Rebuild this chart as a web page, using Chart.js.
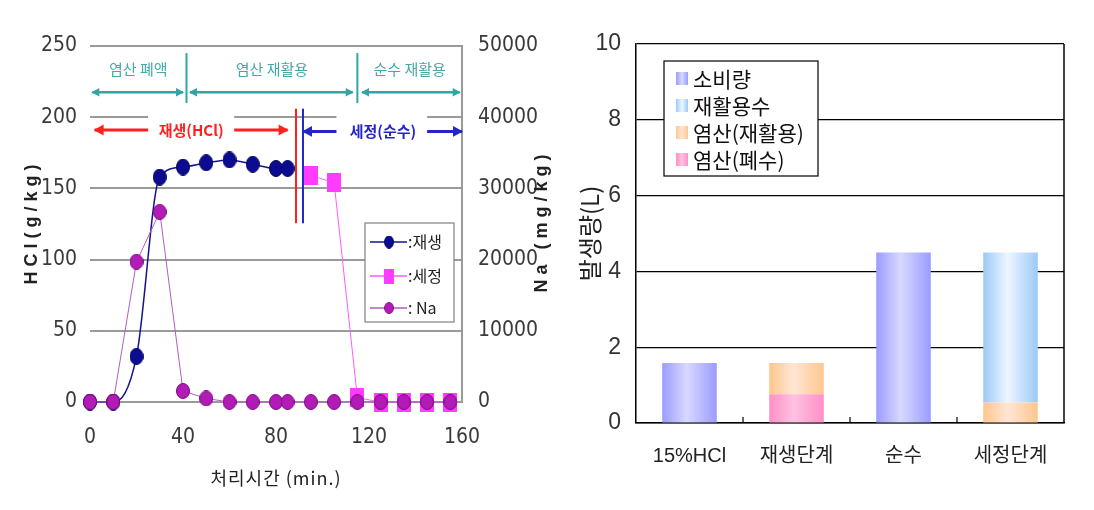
<!DOCTYPE html>
<html>
<head>
<meta charset="utf-8">
<script src="https://cdn.jsdelivr.net/npm/chart.js@4.4.1/dist/chart.umd.min.js"></script>
<style>
  body { margin: 0; background: #fff; width: 1094px; height: 510px; overflow: hidden; position: relative; }
  #left { position: absolute; left: 0; top: 0; }
  #right { position: absolute; left: 550px; top: 0; }
</style>
</head>
<body>
<canvas id="left" width="560" height="510"></canvas>
<canvas id="right" width="544" height="510"></canvas>
<script>
// ---- left chart data (처리시간 vs 농도) ----
const regenTime = [0, 10, 20, 30, 40, 50, 60, 70, 80, 85];
const regenHCl = [0, 0, 32, 158, 165, 168, 170, 167, 164, 164];
const washTime = [95, 105, 115, 125, 135, 145, 155];
const washHCl = [159, 154, 3, 0, 0, 0, 0];
const naTime = [0, 10, 20, 30, 40, 50, 60, 70, 80, 85, 95, 105, 115, 125, 135, 145, 155];
const naValue = [0, 0, 19700, 26700, 1550, 500, 0, 0, 0, 0, 0, 0, 0, 0, 0, 0, 0];

// 구간 표시 (x 는 min, y 는 HCl g/kg 축 기준)
const phaseNames = ['염산 폐액', '염산 재활용', '순수 재활용'];
const phaseBounds = [0, 41.5, 115, 160];
const phaseArrows = [[1, 40], [43, 113], [117, 159]];
const stepNames = ['재생(HCl)', '세정(순수)'];
const stepCenters = [43.5, 126];
const stepArrows = [[[2, 25], [62, 85]], [[91.6, 106], [145, 160]]];
const stepLines = [88.6, 91.6];

// ---- right chart data (발생량) ----
const stageLabels = ['15%HCl', '재생단계', '순수', '세정단계'];
const consumed = [1.58, null, 4.5, null];
const recycledWater = [null, null, null, 3.96];
const acidReuse = [null, 0.82, null, 0.54];
const acidWaste = [null, 0.76, null, null];

const narrow = "'Liberation Sans Narrow','DejaVu Sans Condensed','Liberation Sans',sans-serif";
const kr = "'Noto Sans CJK KR','Noto Sans',sans-serif";

function ellipseMarker(w, h, fill, edge) {
    const c = document.createElement('canvas');
    c.width = w; c.height = h;
    const g = c.getContext('2d');
    g.fillStyle = fill; g.strokeStyle = edge; g.lineWidth = 1;
    g.beginPath();
    g.ellipse(w / 2, h / 2, w / 2 - 0.5, h / 2 - 0.5, 0, 0, Math.PI * 2);
    g.fill(); g.stroke();
    return c;
}
function rectMarker(w, h, fill) {
    const c = document.createElement('canvas');
    c.width = w; c.height = h;
    const g = c.getContext('2d');
    g.fillStyle = fill;
    g.fillRect(0, 0, w, h);
    return c;
}
const regenMarker = ellipseMarker(14, 17, '#0c0c92', '#05055a');
const washMarker = rectMarker(14, 19, '#ff3cff');
const naMarker = ellipseMarker(14, 16, '#b21bb5', '#7a0a80');

function toXY(xs, ys) {
    return xs.map((x, i) => ({ x: x, y: ys[i] }));
}

function arrow(ctx, x1, x2, y, headLeft, headRight, size) {
    ctx.beginPath();
    ctx.moveTo(x1, y); ctx.lineTo(x2, y);
    ctx.stroke();
    if (headLeft) {
        ctx.beginPath();
        ctx.moveTo(x1 - 1, y); ctx.lineTo(x1 + size, y - size * 0.6); ctx.lineTo(x1 + size, y + size * 0.6);
        ctx.closePath(); ctx.fill();
    }
    if (headRight) {
        ctx.beginPath();
        ctx.moveTo(x2 + 1, y); ctx.lineTo(x2 - size, y - size * 0.6); ctx.lineTo(x2 - size, y + size * 0.6);
        ctx.closePath(); ctx.fill();
    }
}

const leftDecor = {
    id: 'leftDecor',
    beforeDatasetsDraw(chart) {
        const { ctx } = chart;
        const xs = chart.scales.x, ys = chart.scales.y;
        ctx.save();
        // white boxes behind the step texts
        ctx.fillStyle = '#fff';
        ctx.fillRect(xs.getPixelForValue(25), ys.getPixelForValue(205), xs.getPixelForValue(62) - xs.getPixelForValue(25), ys.getPixelForValue(180) - ys.getPixelForValue(205));
        ctx.fillRect(xs.getPixelForValue(106), ys.getPixelForValue(205), xs.getPixelForValue(145) - xs.getPixelForValue(106), ys.getPixelForValue(180) - ys.getPixelForValue(205));

        // phase rows (teal)
        ctx.strokeStyle = '#2fa6a6'; ctx.fillStyle = '#2fa6a6';
        ctx.lineWidth = 2;
        [phaseBounds[1], phaseBounds[2]].forEach(b => {
            ctx.beginPath();
            ctx.moveTo(xs.getPixelForValue(b), ys.getPixelForValue(245));
            ctx.lineTo(xs.getPixelForValue(b), ys.getPixelForValue(210));
            ctx.stroke();
        });
        ctx.lineWidth = 2.5;
        phaseArrows.forEach(a => {
            arrow(ctx, xs.getPixelForValue(a[0]), xs.getPixelForValue(a[1]), ys.getPixelForValue(217.5), true, true, 7);
        });
        ctx.font = '15px ' + kr;
        ctx.textAlign = 'center'; ctx.textBaseline = 'middle';
        ctx.fillStyle = '#45a8a8';
        phaseNames.forEach((n, i) => {
            const cx = i === 2 ? 137.5 : (phaseBounds[i] + phaseBounds[i + 1]) / 2;
            ctx.fillText(n, xs.getPixelForValue(cx), ys.getPixelForValue(233.5));
        });

        // step rows
        const stepColors = ['#ff2020', '#2424c8'];
        stepNames.forEach((n, i) => {
            ctx.strokeStyle = stepColors[i]; ctx.fillStyle = stepColors[i];
            ctx.lineWidth = 3;
            const yy = ys.getPixelForValue(i === 0 ? 191 : 190);
            const [a, b] = stepArrows[i];
            arrow(ctx, xs.getPixelForValue(a[0]), xs.getPixelForValue(a[1]), yy, true, false, 9);
            arrow(ctx, xs.getPixelForValue(b[0]), xs.getPixelForValue(b[1]), yy, false, true, 9);
            ctx.font = 'bold 15px ' + kr;
            ctx.fillText(n, xs.getPixelForValue(stepCenters[i]), yy);
            ctx.lineWidth = 2;
            ctx.beginPath();
            ctx.moveTo(xs.getPixelForValue(stepLines[i]), ys.getPixelForValue(206));
            ctx.lineTo(xs.getPixelForValue(stepLines[i]), ys.getPixelForValue(125.5));
            ctx.stroke();
        });
        ctx.restore();
    },
    afterDatasetsDraw(chart) {
        const { ctx } = chart;
        const ds = chart.data.datasets;
        const rows = [1, 2, 0];
        ctx.save();
        ctx.fillStyle = '#fff'; ctx.strokeStyle = '#808080'; ctx.lineWidth = 1.2;
        ctx.fillRect(365, 223, 89, 99);
        ctx.strokeRect(365, 223, 89, 99);
        const ys = [242, 276, 308];
        rows.forEach((d, i) => {
            const y = ys[i];
            ctx.strokeStyle = ds[d].borderColor; ctx.lineWidth = 1.5;
            ctx.beginPath(); ctx.moveTo(370, y); ctx.lineTo(407, y); ctx.stroke();
            const img = ds[d].pointStyle;
            ctx.drawImage(img, 389 - img.width / 2 + 2, y - img.height / 2 + 2, img.width - 4, img.height - 4);
            ctx.fillStyle = '#222';
            ctx.font = '16px ' + kr;
            ctx.textAlign = 'left'; ctx.textBaseline = 'middle';
            ctx.fillText(ds[d].label, 408, y);
        });
        ctx.restore();
    },
    afterDraw(chart) {
        const { ctx } = chart;
        ctx.save();
        ctx.fillStyle = '#222';
        ctx.textAlign = 'center'; ctx.textBaseline = 'middle';
        ctx.font = 'bold 18px ' + "'Liberation Sans',sans-serif";
        ctx.letterSpacing = '5px';
        ctx.translate(32, 222); ctx.rotate(-Math.PI / 2);
        ctx.fillText('HCl(g/kg)', 0, 0);
        ctx.setTransform(1, 0, 0, 1, 0, 0);
        ctx.translate(542, 221); ctx.rotate(-Math.PI / 2);
        ctx.fillText('Na (mg/kg)', 0, 0);
        ctx.setTransform(1, 0, 0, 1, 0, 0);
        ctx.letterSpacing = '1px';
        ctx.font = '18px ' + kr;
        ctx.fillText('처리시간 (min.)', 276, 478);
        ctx.restore();
    }
};

const tickFontL = { family: narrow, size: 21 };

new Chart(document.getElementById('left'), {
    type: 'line',
    data: {
        datasets: [
            {
                label: ': Na',
                data: toXY(naTime, naValue),
                yAxisID: 'y1',
                borderColor: '#b45ac4',
                borderWidth: 1,
                pointStyle: naMarker,
                clip: false,
                order: 0
            },
            {
                label: ':재생',
                data: toXY(regenTime, regenHCl),
                yAxisID: 'y',
                borderColor: '#14148c',
                borderWidth: 1.5,
                cubicInterpolationMode: 'monotone',
                pointStyle: regenMarker,
                clip: false,
                order: 1
            },
            {
                label: ':세정',
                data: toXY(washTime, washHCl),
                yAxisID: 'y',
                borderColor: '#ff5cff',
                borderWidth: 1,
                pointStyle: washMarker,
                clip: false,
                order: 2
            }
        ]
    },
    options: {
        responsive: false,
        animation: false,
        layout: { padding: { top: 46, left: 0, right: 0, bottom: 0 } },
        plugins: { legend: { display: false }, tooltip: { enabled: false } },
        scales: {
            x: {
                type: 'linear', min: 0, max: 160,
                ticks: { stepSize: 40, padding: 15, font: tickFontL, color: '#3a3a3a', maxRotation: 0 },
                grid: { display: false },
                border: { display: false },
                afterFit: s => { s.height = 108; }
            },
            y: {
                position: 'left', min: 0, max: 250,
                ticks: { stepSize: 50, padding: 13, font: tickFontL, color: '#3a3a3a' },
                grid: { color: '#9a9a9a', lineWidth: 2, drawTicks: false },
                border: { display: false },
                afterFit: s => { s.width = 90; }
            },
            y1: {
                position: 'right', min: 0, max: 50000,
                ticks: { stepSize: 10000, padding: 16, font: tickFontL, color: '#3a3a3a', callback: v => String(v) },
                grid: { drawOnChartArea: false, drawTicks: false },
                border: { display: true, color: '#9a9a9a', width: 2 },
                afterFit: s => { s.width = 98; }
            }
        }
    },
    plugins: [leftDecor]
});

// ---- right chart ----
const barColors = {
    consumed: ['#9a9cff', '#d8d8ff'],
    recycledWater: ['#9ccaf8', '#eef6ff'],
    acidReuse: ['#ffc68f', '#ffe6d4'],
    acidWaste: ['#ff8fc6', '#ffc2e2']
};
const barPct = 0.51;

function barGradient(chart, index, pair) {
    const xs = chart.scales.x;
    if (!xs || !chart.chartArea) return pair[0];
    const cx = xs.getPixelForValue(index);
    const half = chart.chartArea.width / stageLabels.length * barPct / 2;
    const g = chart.ctx.createLinearGradient(cx - half, 0, cx + half, 0);
    g.addColorStop(0, pair[0]);
    g.addColorStop(0.45, pair[1]);
    g.addColorStop(1, pair[0]);
    return g;
}

const rightDecor = {
    id: 'rightDecor',
    afterDatasetsDraw(chart) {
        const { ctx, chartArea } = chart;
        const xs = chart.scales.x;
        ctx.save();
        ctx.strokeStyle = '#000'; ctx.lineWidth = 1.5;
        // right frame
        ctx.beginPath();
        ctx.moveTo(chartArea.right, chartArea.top); ctx.lineTo(chartArea.right, chartArea.bottom);
        ctx.stroke();
        // inner ticks between categories
        ctx.lineWidth = 1.2;
        for (let i = 0; i < stageLabels.length - 1; i++) {
            const bx = (xs.getPixelForValue(i) + xs.getPixelForValue(i + 1)) / 2;
            ctx.beginPath(); ctx.moveTo(bx, chartArea.bottom); ctx.lineTo(bx, chartArea.bottom - 6); ctx.stroke();
        }
        // legend box
        const order = [3, 2, 1, 0];
        ctx.fillStyle = '#fff';
        ctx.fillRect(114, 61, 154, 115);
        ctx.strokeStyle = '#000'; ctx.lineWidth = 1.2;
        ctx.strokeRect(114, 61, 154, 115);
        const rowY = [78, 105, 132, 159];
        order.forEach((d, i) => {
            const ds = chart.data.datasets[d];
            const pair = ds.colorPair;
            const g = ctx.createLinearGradient(126, 0, 138, 0);
            g.addColorStop(0, pair[0]); g.addColorStop(0.5, pair[1]); g.addColorStop(1, pair[0]);
            ctx.fillStyle = g;
            ctx.fillRect(126, rowY[i] - 6, 12, 13);
            ctx.fillStyle = '#111';
            ctx.font = '21px ' + kr;
            ctx.textAlign = 'left'; ctx.textBaseline = 'middle';
            ctx.fillText(ds.label, 143, rowY[i] + 1);
        });
        ctx.restore();
    }
};

function barSet(label, values, pair) {
    return {
        label: label,
        data: values,
        colorPair: pair,
        backgroundColor: c => barGradient(c.chart, c.dataIndex, pair),
        borderWidth: 0,
        categoryPercentage: 1,
        barPercentage: barPct
    };
}

new Chart(document.getElementById('right'), {
    type: 'bar',
    data: {
        labels: stageLabels,
        datasets: [
            barSet('염산(폐수)', acidWaste, barColors.acidWaste),
            barSet('염산(재활용)', acidReuse, barColors.acidReuse),
            barSet('재활용수', recycledWater, barColors.recycledWater),
            barSet('소비량', consumed, barColors.consumed)
        ]
    },
    options: {
        responsive: false,
        animation: false,
        layout: { padding: { top: 44, left: 0, right: 30, bottom: 0 } },
        plugins: { legend: { display: false }, tooltip: { enabled: false } },
        scales: {
            x: {
                stacked: true,
                ticks: { padding: 13, font: { family: "'Liberation Sans','Noto Sans CJK KR',sans-serif", size: 20 }, color: '#222' },
                grid: { display: false },
                border: { display: true, color: '#000', width: 1.5 },
                afterFit: s => { s.height = 87; }
            },
            y: {
                stacked: true, min: 0, max: 10,
                ticks: { stepSize: 2, padding: 15, font: { family: "'Liberation Sans',sans-serif", size: 23 }, color: '#333' },
                grid: { color: '#000', lineWidth: 1.2, drawTicks: false },
                border: { display: true, color: '#000', width: 1.5 },
                title: { display: true, text: '발생량(L)', font: { family: kr, size: 24 }, color: '#222', padding: { top: 25, bottom: 0 } },
                afterFit: s => { s.width = 86; }
            }
        }
    },
    plugins: [rightDecor]
});
</script>
</body>
</html>
